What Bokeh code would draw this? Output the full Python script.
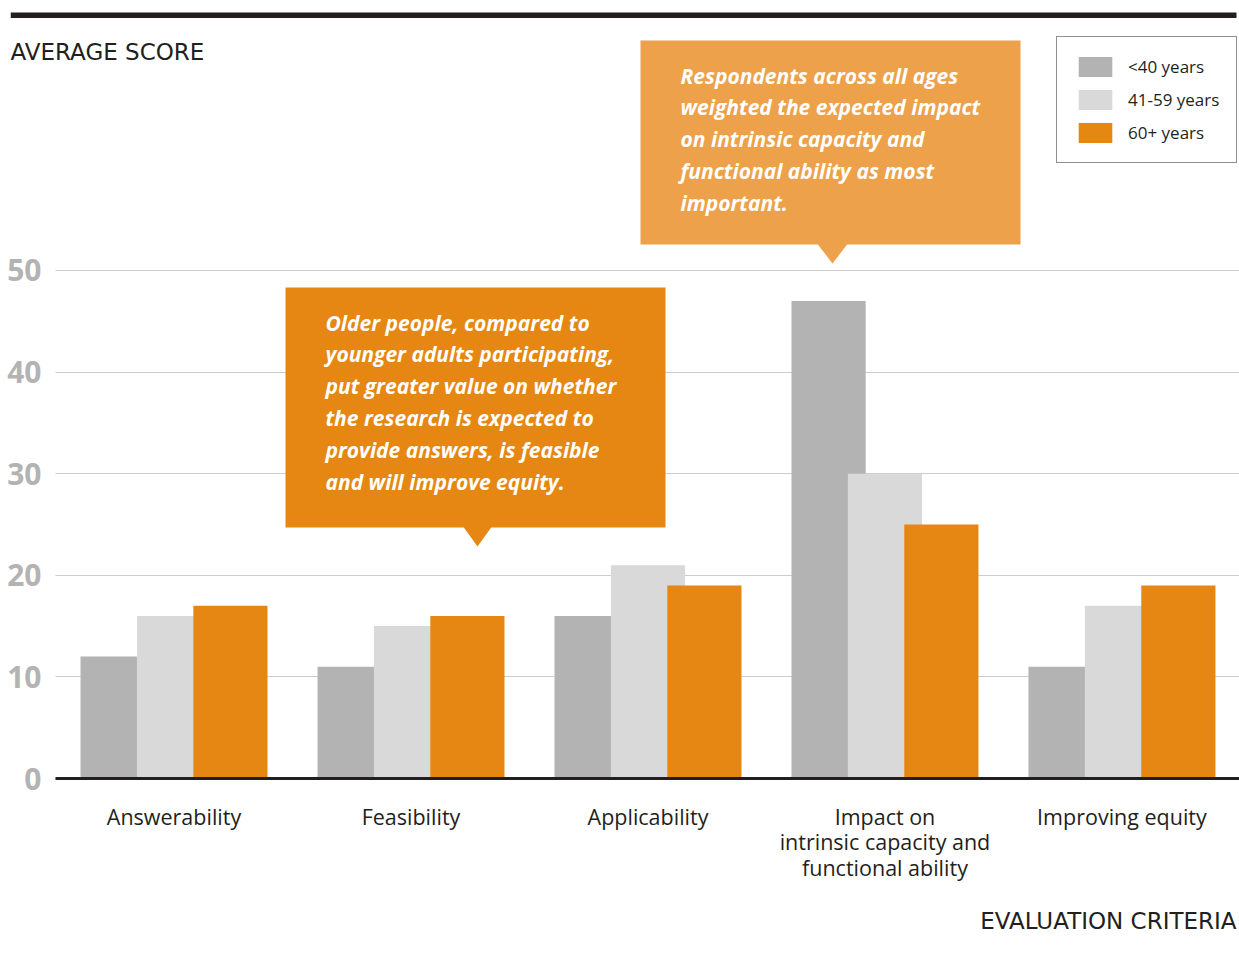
from bokeh.plotting import figure
from bokeh.models import (Range1d, FixedTicker, ColumnDataSource, Label, Title,
                          BoxAnnotation, PolyAnnotation, Legend, LegendItem)
from bokeh.transform import dodge
from bokeh.embed import file_html
from bokeh.resources import INLINE

# ---- data ----
categories = ["Answerability", "Feasibility", "Applicability",
              "Impact on\nintrinsic capacity and\nfunctional ability", "Improving equity"]
series_names = ["<40 years", "41-59 years", "60+ years"]
under_40 = [12, 11, 16, 47, 11]
age_41_59 = [16, 15, 21, 30, 17]
over_60 = [17, 16, 19, 25, 19]
y_ticks = [0, 10, 20, 30, 40, 50]

note_1 = ("Older people, compared to\nyounger adults participating,\nput greater value on whether\n"
          "the research is expected to\nprovide answers, is feasible\nand will improve equity.")
note_2 = ("Respondents across all ages\nweighted the expected impact\non intrinsic capacity and\n"
          "functional ability as most\nimportant.")

# ---- styles ----
C_DARK = "#231f20"
C_GREY = "#b3b3b3"
C_LIGHT = "#d9d9d9"
C_ORANGE = "#e58712"
C_ORANGE_LIGHT = "#eca14a"
HEAD_FONT = "DejaVu Sans"

x_idx = list(range(len(categories)))
src = ColumnDataSource(dict(x=x_idx, u40=under_40, mid=age_41_59, o60=over_60))

p = figure(x_range=Range1d(-0.69, 4.496), y_range=Range1d(0, 76.57),
           width=1239, height=954, output_backend="svg", toolbar_location=None,
           min_border_left=10, min_border_right=0, min_border_top=0, min_border_bottom=176)
p.outline_line_color = None
p.background_fill_color = "white"
p.border_fill_color = "white"

bw = 0.313
r1 = p.vbar(x=dodge("x", -0.238), top="u40", width=bw, source=src,
            fill_color=C_GREY, line_color=None)
r2 = p.vbar(x=dodge("x", 0.0), top="mid", width=bw, source=src,
            fill_color=C_LIGHT, line_color=None)
r3 = p.vbar(x=dodge("x", 0.238), top="o60", width=bw, source=src,
            fill_color=C_ORANGE, line_color=None)

# axes
p.yaxis.ticker = FixedTicker(ticks=y_ticks)
p.yaxis.axis_line_color = None
p.yaxis.major_tick_line_color = None
p.yaxis.minor_tick_line_color = None
p.yaxis.major_label_text_font = "Open Sans"
p.yaxis.major_label_text_font_style = "bold"
p.yaxis.major_label_text_font_size = "30px"
p.yaxis.major_label_text_color = C_GREY
p.yaxis.major_label_text_baseline = "alphabetic"
p.yaxis.major_label_standoff = -37

p.xaxis.ticker = FixedTicker(ticks=x_idx)
p.xaxis.major_label_overrides = {i: c for i, c in enumerate(categories)}
p.xaxis.bounds = (-0.5, len(categories) - 0.5)
p.xaxis.axis_line_color = C_DARK
p.xaxis.axis_line_width = 3
p.xaxis.major_tick_line_color = None
p.xaxis.minor_tick_line_color = None
p.xaxis.major_label_text_font = "Open Sans"
p.xaxis.major_label_text_font_size = "21.5px"
p.xaxis.major_label_text_line_height = 0.89
p.xaxis.major_label_text_color = C_DARK
p.xaxis.major_label_standoff = 17

p.xgrid.visible = False
p.ygrid.grid_line_color = "#cccccc"
p.ygrid.grid_line_width = 1

# keep grid lines clear of the y tick labels
p.add_layout(BoxAnnotation(left=-2, right=45, top=540, bottom=-2,
                           left_units="screen", right_units="screen",
                           top_units="screen", bottom_units="screen",
                           fill_color="white", fill_alpha=1, line_color=None, level="underlay"))

# x axis title, right aligned below
p.add_layout(Title(text="EVALUATION CRITERIA", align="right", text_font=HEAD_FONT,
                   text_font_size="23px", text_font_style="normal", text_color=C_DARK,
                   standoff=40, offset=3), "below")

# top rule
p.add_layout(BoxAnnotation(left=0, right=1226, top=766, bottom=760.5,
                           left_units="screen", right_units="screen",
                           top_units="screen", bottom_units="screen",
                           fill_color=C_DARK, fill_alpha=1, line_color=None))

# y axis title
p.add_layout(Label(x=0, y=727, x_units="screen", y_units="screen", text="AVERAGE SCORE",
                   text_font=HEAD_FONT, text_font_size="23px", text_font_style="normal",
                   text_color=C_DARK, text_baseline="alphabetic", text_align="left"))

# callout 1
p.add_layout(BoxAnnotation(left=275, right=655, top=491, bottom=251,
                           left_units="screen", right_units="screen",
                           top_units="screen", bottom_units="screen",
                           fill_color=C_ORANGE, fill_alpha=1, line_color=None))
p.add_layout(PolyAnnotation(xs=[453, 481, 467], ys=[251.5, 251.5, 232],
                            xs_units="screen", ys_units="screen",
                            fill_color=C_ORANGE, fill_alpha=1, line_color=None))
p.add_layout(Label(x=315, y=470, x_units="screen", y_units="screen", text=note_1,
                   text_font="Open Sans", text_font_size="21px", text_font_style="bold italic",
                   text_color="white", text_baseline="top", text_align="left",
                   text_line_height=1.14))

# callout 2
p.add_layout(BoxAnnotation(left=630, right=1010, top=738, bottom=534,
                           left_units="screen", right_units="screen",
                           top_units="screen", bottom_units="screen",
                           fill_color=C_ORANGE_LIGHT, fill_alpha=1, line_color=None))
p.add_layout(PolyAnnotation(xs=[807, 837, 822], ys=[534.5, 534.5, 515],
                            xs_units="screen", ys_units="screen",
                            fill_color=C_ORANGE_LIGHT, fill_alpha=1, line_color=None))
p.add_layout(Label(x=670, y=717, x_units="screen", y_units="screen", text=note_2,
                   text_font="Open Sans", text_font_size="21px", text_font_style="bold italic",
                   text_color="white", text_baseline="top", text_align="left",
                   text_line_height=1.14))

# legend
legend = Legend(items=[LegendItem(label=series_names[0], renderers=[r1]),
                       LegendItem(label=series_names[1], renderers=[r2]),
                       LegendItem(label=series_names[2], renderers=[r3])],
                location=(1046, 615))
legend.glyph_width = 42
legend.glyph_height = 25
legend.label_height = 25
legend.label_standoff = 12
legend.spacing = 8
legend.padding = 17
legend.margin = 0
legend.border_line_color = C_DARK
legend.border_line_width = 1
legend.background_fill_color = "white"
legend.background_fill_alpha = 1
legend.label_text_font = "Open Sans"
legend.label_text_font_size = "17px"
legend.label_text_color = C_DARK
p.add_layout(legend)

open("out.html", "w").write(file_html(p, INLINE))
